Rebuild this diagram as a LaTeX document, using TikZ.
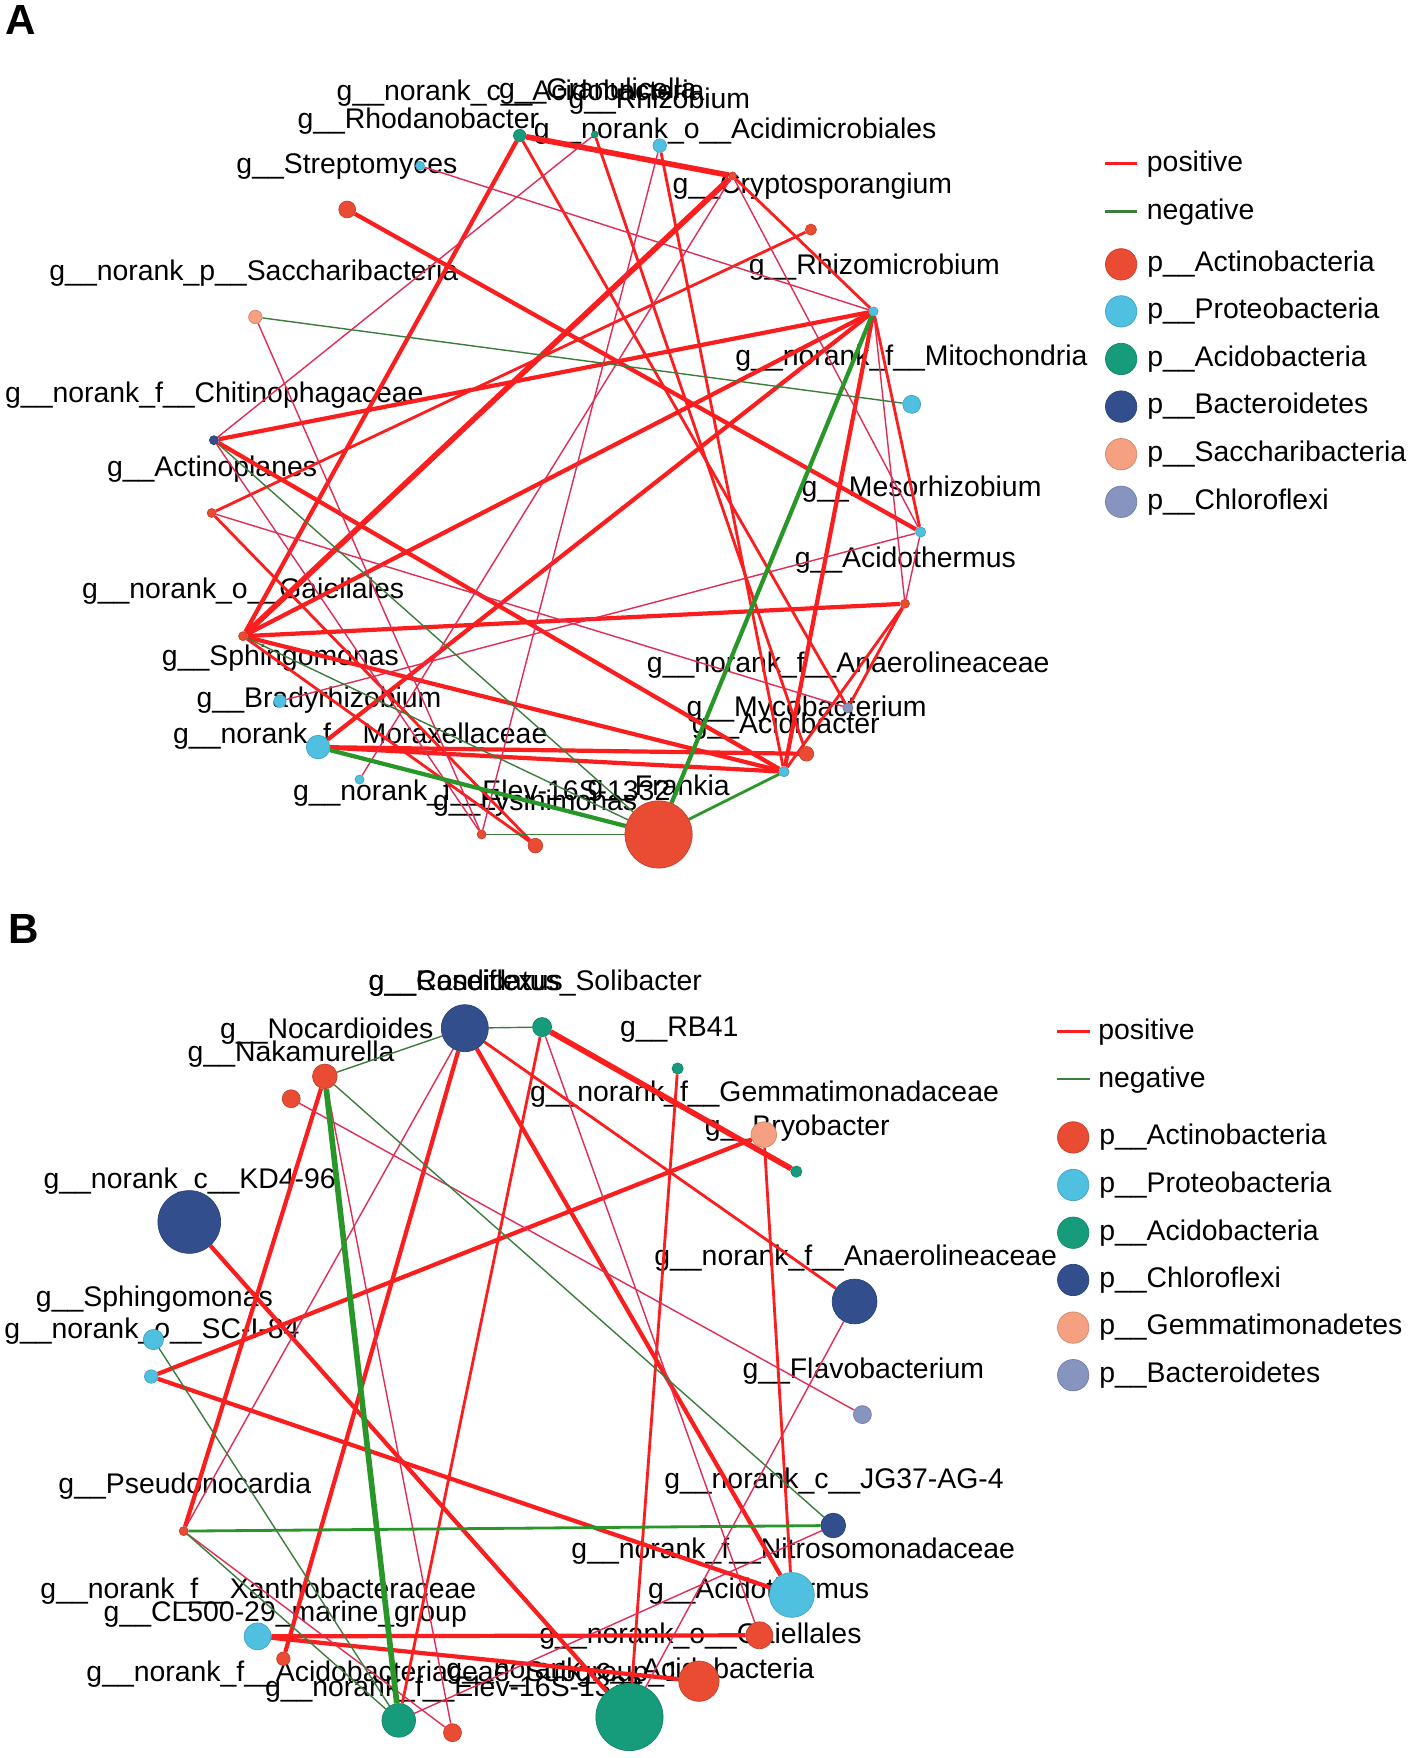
\documentclass[tikz,border=0pt]{standalone}
\usepackage{fontspec}
\setmainfont{Liberation Sans}
\usetikzlibrary{positioning}

\definecolor{posred}{RGB}{250,30,30}
\definecolor{pospink}{RGB}{225,45,85}
\definecolor{neggreen}{RGB}{40,150,40}
\definecolor{neggrey}{RGB}{60,125,60}
\definecolor{colAct}{RGB}{233,76,50}
\definecolor{colPro}{RGB}{80,192,225}
\definecolor{colAci}{RGB}{22,156,122}
\definecolor{colNavy}{RGB}{50,78,140}
\definecolor{colSalmon}{RGB}{245,160,128}
\definecolor{colGrey}{RGB}{135,148,192}

\pgfdeclarelayer{bg}
\pgfdeclarelayer{labels}
\pgfdeclarelayer{edges}
\pgfsetlayers{bg,labels,edges,main}

\newcommand{\labfont}{\fontsize{8.08}{9.7}\selectfont}
\tikzstyle{posline} = [draw=posred]
\tikzstyle{posweak} = [draw=pospink, thin]
\tikzstyle{negline} = [draw=neggreen]
\tikzstyle{negweak} = [draw=neggrey, thin]
\tikzstyle{lab} = [anchor=base west, inner sep=0pt, font=\labfont]
\tikzstyle{panel} = [anchor=base west, inner sep=0pt, font=\fontsize{12}{14}\selectfont\bfseries]
\tikzset{otu/.style 2 args={circle, inner sep=0pt, fill=#1, draw=#1!85!black, line width=0.2pt, minimum size=#2*0.0224cm}}

\begin{document}
\begin{tikzpicture}[x=0.0112cm, y=-0.0112cm]

    \useasboundingbox (0,0) rectangle (1265.2,1569.6);
    \begin{pgfonlayer}{bg}
        \fill[white] (0,0) rectangle (1265.2,1569.6);
    \end{pgfonlayer}

    % panel A
    \node[panel] (pA) at (4,31) {A};

    \node[otu={colAci}{5.5}] (n1) at (464,121) {};
    \node[otu={colAci}{3}] (n2) at (531,120) {};
    \node[otu={colPro}{6}] (n3) at (589,130) {};
    \node[otu={colAct}{3.5}] (n4) at (654,157) {};
    \node[otu={colAct}{5}] (n5) at (724,205) {};
    \node[otu={colPro}{4}] (n6) at (780,278) {};
    \node[otu={colPro}{8}] (n7) at (814,361) {};
    \node[otu={colPro}{4.5}] (n8) at (822,475) {};
    \node[otu={colAct}{4}] (n9) at (808,539) {};
    \node[otu={colGrey}{4.5}] (n10) at (757,632) {};
    \node[otu={colAct}{6.5}] (n11) at (720,673) {};
    \node[otu={colPro}{4.5}] (n12) at (700,689) {};
    \node[otu={colAct}{30}] (n13) at (588,745) {};
    \node[otu={colAct}{6.5}] (n14) at (478,755) {};
    \node[otu={colAct}{4}] (n15) at (430,745) {};
    \node[otu={colPro}{4}] (n16) at (321,696) {};
    \node[otu={colPro}{10.5}] (n17) at (284,667) {};
    \node[otu={colPro}{5.5}] (n18) at (250,626) {};
    \node[otu={colAct}{4}] (n19) at (217,568) {};
    \node[otu={colAct}{4}] (n20) at (189,458) {};
    \node[otu={colNavy}{4}] (n21) at (191,393) {};
    \node[otu={colSalmon}{6}] (n22) at (228,283) {};
    \node[otu={colPro}{4}] (n23) at (375,148) {};
    \node[otu={colAct}{7.5}] (n24) at (310,187) {};

    \begin{pgfonlayer}{edges}
    \draw[posline, ultra thick] (n1) -- (n4);
    \draw[posline, ultra thick] (n4) -- (n19);
    \draw[posline, very thick] (n1) -- (n19);
    \draw[posline, very thick] (n6) -- (n21);
    \draw[posline, very thick] (n6) -- (n19);
    \draw[posline, very thick] (n6) -- (n17);
    \draw[posline, very thick] (n6) -- (n12);
    \draw[posline, very thick] (n17) -- (n12);
    \draw[posline, very thick] (n17) -- (n11);
    \draw[posline, very thick] (n21) -- (n12);
    \draw[posline, very thick] (n19) -- (n9);
    \draw[posline, very thick] (n19) -- (n12);
    \draw[posline, very thick] (n24) -- (n8);
    \draw[posline, thick] (n1) -- (n10);
    \draw[posline, thick] (n2) -- (n11);
    \draw[posline, thick] (n3) -- (n12);
    \draw[posline, thick] (n4) -- (n6);
    \draw[posline, thick] (n5) -- (n20);
    \draw[posline, thick] (n6) -- (n8);
    \draw[posline, thick] (n9) -- (n12);
    \draw[posline, thick] (n9) -- (n10);
    \draw[posline, thick] (n19) -- (n14);
    \draw[posline, thick] (n20) -- (n14);
    \draw[posweak] (n23) -- (n6);
    \draw[posweak] (n2) -- (n21);
    \draw[posweak] (n22) -- (n15);
    \draw[posweak] (n3) -- (n15);
    \draw[posweak] (n8) -- (n18);
    \draw[posweak] (n6) -- (n9);
    \draw[posweak] (n8) -- (n9);
    \draw[posweak] (n20) -- (n10);
    \draw[posweak] (n21) -- (n15);
    \draw[posweak] (n16) -- (n4);
    \draw[posweak] (n4) -- (n8);
    \draw[negline, very thick] (n6) -- (n13);
    \draw[negline, very thick] (n17) -- (n13);
    \draw[negline, thick] (n12) -- (n13);
    \draw[negweak] (n22) -- (n7);
    \draw[negweak] (n21) -- (n13);
    \draw[negweak] (n15) -- (n13);
    \draw[negweak] (n19) -- (n13);
    \end{pgfonlayer}

    \begin{pgfonlayer}{labels}
    \node[lab] (la1) at (300,90) {g\_\_norank\_c\_\_Acidobacteria};
    \node[lab] (la2) at (445,88) {g\_\_Granulicella};
    \node[lab] (la3) at (507,97) {g\_\_Rhizobium};
    \node[lab] (la4) at (265,115) {g\_\_Rhodanobacter};
    \node[lab] (la5) at (476,124) {g\_\_norank\_o\_\_Acidimicrobiales};
    \node[lab] (la6) at (210.5,155) {g\_\_Streptomyces};
    \node[lab] (la7) at (600,173) {g\_\_Cryptosporangium};
    \node[lab] (la8) at (43.5,250) {g\_\_norank\_p\_\_Saccharibacteria};
    \node[lab] (la9) at (668,245) {g\_\_Rhizomicrobium};
    \node[lab] (la10) at (656,326) {g\_\_norank\_f\_\_Mitochondria};
    \node[lab] (la11) at (4,359) {g\_\_norank\_f\_\_Chitinophagaceae};
    \node[lab] (la12) at (95,425) {g\_\_Actinoplanes};
    \node[lab] (la13) at (715,443) {g\_\_Mesorhizobium};
    \node[lab] (la14) at (709,507) {g\_\_Acidothermus};
    \node[lab] (la15) at (72.6,534) {g\_\_norank\_o\_\_Gaiellales};
    \node[lab] (la16) at (144,594) {g\_\_Sphingomonas};
    \node[lab] (la17) at (577,600) {g\_\_norank\_f\_\_Anaerolineaceae};
    \node[lab] (la18) at (175,632) {g\_\_Bradyrhizobium};
    \node[lab] (la19) at (612.5,640) {g\_\_Mycobacterium};
    \node[lab] (la20) at (617,655) {g\_\_Acidibacter};
    \node[lab] (la21) at (154,664) {g\_\_norank\_f\_\_Moraxellaceae};
    \node[lab] (la22) at (261,715) {g\_\_norank\_f\_\_Elev-16S-1332};
    \node[lab] (la23) at (524,710) {g\_\_Frankia};
    \node[lab] (la24) at (386,724) {g\_\_Lysinimonas};
    \end{pgfonlayer}

    % legend A
    \draw[posred, thick] (987,146) -- (1015,146);
    \node[lab] (lgApos) at (1023.4,153) {positive};
    \draw[neggrey, thick] (987,189) -- (1015,189);
    \node[lab] (lgAneg) at (1023.4,196) {negative};
    \node[otu={colAct}{14}] (lgA1) at (1001,236) {};
    \node[otu={colPro}{14}] (lgA2) at (1001,278) {};
    \node[otu={colAci}{14}] (lgA3) at (1001,320.5) {};
    \node[otu={colNavy}{14}] (lgA4) at (1001,363) {};
    \node[otu={colSalmon}{14}] (lgA5) at (1001,405.5) {};
    \node[otu={colGrey}{14}] (lgA6) at (1001,448) {};
    \node[lab, right=0.094cm of lgA1] {p\_\_Actinobacteria};
    \node[lab, right=0.094cm of lgA2] {p\_\_Proteobacteria};
    \node[lab, right=0.094cm of lgA3] {p\_\_Acidobacteria};
    \node[lab, right=0.094cm of lgA4] {p\_\_Bacteroidetes};
    \node[lab, right=0.094cm of lgA5] {p\_\_Saccharibacteria};
    \node[lab, right=0.094cm of lgA6] {p\_\_Chloroflexi};

    % panel B
    \node[panel] (pB) at (7,842) {B};

    \node[otu={colNavy}{21}] (b1) at (415,918) {};
    \node[otu={colAci}{8.5}] (b2) at (484,917) {};
    \node[otu={colAci}{5}] (b3) at (605,954) {};
    \node[otu={colAct}{11}] (b4) at (290,961) {};
    \node[otu={colAct}{8}] (b5) at (260,981) {};
    \node[otu={colNavy}{28}] (b6) at (169,1091) {};
    \node[otu={colSalmon}{11.5}] (b7) at (682,1013) {};
    \node[otu={colAci}{5}] (b8) at (711,1046) {};
    \node[otu={colNavy}{20}] (b9) at (763,1162) {};
    \node[otu={colGrey}{8}] (b10) at (770,1263) {};
    \node[otu={colNavy}{11}] (b11) at (744,1362) {};
    \node[otu={colPro}{20}] (b12) at (707,1424) {};
    \node[otu={colAct}{12}] (b13) at (678,1460) {};
    \node[otu={colAct}{18}] (b14) at (624,1501) {};
    \node[otu={colAci}{30}] (b15) at (562,1533) {};
    \node[otu={colAct}{8}] (b16) at (404,1547) {};
    \node[otu={colAci}{15}] (b17) at (356,1536) {};
    \node[otu={colAct}{6}] (b18) at (253,1481) {};
    \node[otu={colPro}{12}] (b19) at (230,1461) {};
    \node[otu={colAct}{4}] (b20) at (164,1367) {};
    \node[otu={colPro}{6}] (b21) at (135,1229) {};
    \node[otu={colPro}{9}] (b22) at (137,1196) {};

    \begin{pgfonlayer}{edges}
    \draw[posline, ultra thick] (b2) -- (b8);
    \draw[posline, very thick] (b6) -- (b15);
    \draw[posline, very thick] (b1) -- (b18);
    \draw[posline, very thick] (b1) -- (b12);
    \draw[posline, very thick] (b4) -- (b20);
    \draw[posline, very thick] (b7) -- (b21);
    \draw[posline, very thick] (b21) -- (b12);
    \draw[posline, very thick] (b19) -- (b13);
    \draw[posline, very thick] (b19) -- (b14);
    \draw[posline, thick] (b1) -- (b9);
    \draw[posline, thick] (b2) -- (b17);
    \draw[posline, thick] (b3) -- (b15);
    \draw[posline, thick] (b7) -- (b12);
    \draw[posweak] (b4) -- (b16);
    \draw[posweak] (b5) -- (b10);
    \draw[posweak] (b1) -- (b20);
    \draw[posweak] (b2) -- (b13);
    \draw[posweak] (b9) -- (b15);
    \draw[posweak] (b11) -- (b17);
    \draw[posweak] (b20) -- (b16);
    \draw[negline, ultra thick] (b4) -- (b17);
    \draw[negline, thick] (b20) -- (b11);
    \draw[negweak] (b4) -- (b1);
    \draw[negweak] (b1) -- (b2);
    \draw[negweak] (b4) -- (b11);
    \draw[negweak] (b22) -- (b17);
    \draw[negweak] (b20) -- (b17);
    \end{pgfonlayer}

    \begin{pgfonlayer}{labels}
    \node[lab] (lb1) at (328.6,884) {g\_\_Roseiflexus};
    \node[lab] (lb2) at (328.6,884) {g\_\_Candidatus\_Solibacter};
    \node[lab] (lb3) at (553,925.6) {g\_\_RB41};
    \node[lab] (lb4) at (196,927) {g\_\_Nocardioides};
    \node[lab] (lb5) at (167,948) {g\_\_Nakamurella};
    \node[lab] (lb6) at (472.6,983.6) {g\_\_norank\_f\_\_Gemmatimonadaceae};
    \node[lab] (lb7) at (628.8,1013.4) {g\_\_Bryobacter};
    \node[lab] (lb8) at (38.3,1061) {g\_\_norank\_c\_\_KD4-96};
    \node[lab] (lb9) at (583.6,1129.5) {g\_\_norank\_f\_\_Anaerolineaceae};
    \node[lab] (lb10) at (31.5,1166.6) {g\_\_Sphingomonas};
    \node[lab] (lb11) at (3.2,1195) {g\_\_norank\_o\_\_SC-I-84};
    \node[lab] (lb12) at (662.3,1230.6) {g\_\_Flavobacterium};
    \node[lab] (lb13) at (51.6,1333.3) {g\_\_Pseudonocardia};
    \node[lab] (lb14) at (592.5,1328.9) {g\_\_norank\_c\_\_JG37-AG-4};
    \node[lab] (lb15) at (509.6,1391.4) {g\_\_norank\_f\_\_Nitrosomonadaceae};
    \node[lab] (lb16) at (35.5,1427) {g\_\_norank\_f\_\_Xanthobacteraceae};
    \node[lab] (lb17) at (578,1427) {g\_\_Acidothermus};
    \node[lab] (lb18) at (92,1448) {g\_\_CL500-29\_marine\_group};
    \node[lab] (lb19) at (481,1467) {g\_\_norank\_o\_\_Gaiellales};
    \node[lab] (lb20) at (76.6,1501.5) {g\_\_norank\_f\_\_Acidobacteriaceae\_Subgroup\_1\_};
    \node[lab] (lb21) at (398,1498.5) {g\_\_norank\_c\_\_Acidobacteria};
    \node[lab] (lb22) at (236,1515) {g\_\_norank\_f\_\_Elev-16S-1332};
    \end{pgfonlayer}

    % legend B
    \draw[posred, thick] (944,921) -- (973,921);
    \node[lab] (lgBpos) at (980,928) {positive};
    \draw[neggrey, thick] (944,963.4) -- (973,963.4);
    \node[lab] (lgBneg) at (980,970.5) {negative};
    \node[otu={colAct}{14}] (lgB1) at (958.2,1015.5) {};
    \node[otu={colPro}{14}] (lgB2) at (958.2,1058) {};
    \node[otu={colAci}{14}] (lgB3) at (958.2,1100.6) {};
    \node[otu={colNavy}{14}] (lgB4) at (958.2,1142.8) {};
    \node[otu={colSalmon}{14}] (lgB5) at (958.2,1185.3) {};
    \node[otu={colGrey}{14}] (lgB6) at (958.2,1227.8) {};
    \node[lab, right=0.094cm of lgB1] {p\_\_Actinobacteria};
    \node[lab, right=0.094cm of lgB2] {p\_\_Proteobacteria};
    \node[lab, right=0.094cm of lgB3] {p\_\_Acidobacteria};
    \node[lab, right=0.094cm of lgB4] {p\_\_Chloroflexi};
    \node[lab, right=0.094cm of lgB5] {p\_\_Gemmatimonadetes};
    \node[lab, right=0.094cm of lgB6] {p\_\_Bacteroidetes};

\end{tikzpicture}
\end{document}
